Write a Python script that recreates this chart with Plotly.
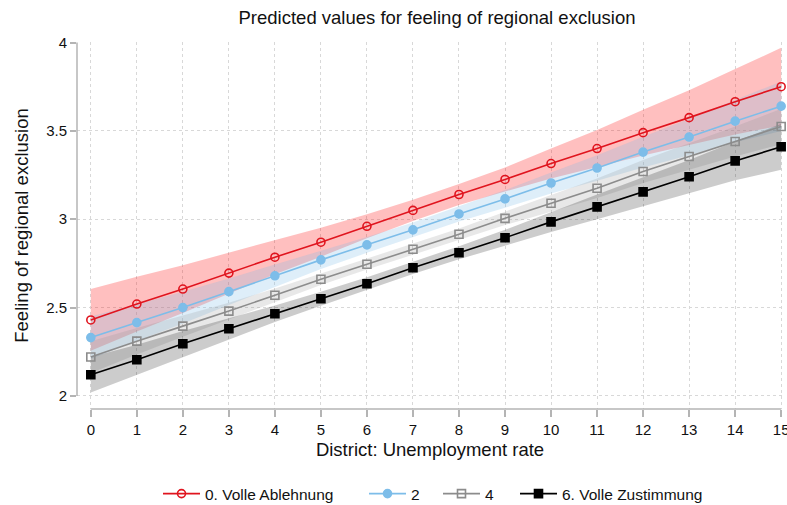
import plotly.graph_objs as go

# district unemployment rate
rate = list(range(16))

# predicted values per answer category
pred_ablehnung = [2.43, 2.52, 2.605, 2.695, 2.785, 2.87, 2.96, 3.05, 3.14, 3.225, 3.315, 3.40, 3.49, 3.575, 3.665, 3.75]
pred_2 = [2.33, 2.415, 2.50, 2.59, 2.68, 2.77, 2.855, 2.94, 3.03, 3.115, 3.205, 3.29, 3.38, 3.465, 3.555, 3.64]
pred_4 = [2.22, 2.31, 2.395, 2.48, 2.57, 2.66, 2.745, 2.83, 2.915, 3.005, 3.09, 3.175, 3.27, 3.355, 3.44, 3.525]
pred_zustimmung = [2.12, 2.205, 2.295, 2.38, 2.465, 2.55, 2.635, 2.725, 2.81, 2.895, 2.985, 3.07, 3.155, 3.24, 3.33, 3.41]

# 95% CI bounds
lo_ablehnung = [2.255, 2.365, 2.47, 2.58, 2.688, 2.788, 2.892, 2.99, 3.08, 3.157, 3.23, 3.295, 3.36, 3.42, 3.48, 3.53]
hi_ablehnung = [2.605, 2.675, 2.74, 2.81, 2.882, 2.952, 3.028, 3.11, 3.20, 3.293, 3.40, 3.505, 3.62, 3.73, 3.85, 3.97]
lo_2 = [2.21, 2.31, 2.41, 2.515, 2.617, 2.718, 2.81, 2.898, 2.987, 3.065, 3.145, 3.218, 3.293, 3.362, 3.435, 3.50]
hi_2 = [2.45, 2.52, 2.59, 2.665, 2.743, 2.822, 2.90, 2.982, 3.073, 3.165, 3.265, 3.362, 3.467, 3.568, 3.675, 3.78]
lo_4 = [2.13, 2.235, 2.335, 2.432, 2.532, 2.628, 2.715, 2.80, 2.883, 2.967, 3.043, 3.12, 3.205, 3.28, 3.355, 3.425]
hi_4 = [2.31, 2.385, 2.455, 2.528, 2.608, 2.692, 2.775, 2.86, 2.947, 3.043, 3.137, 3.23, 3.335, 3.43, 3.525, 3.625]
lo_zustimmung = [2.02, 2.12, 2.222, 2.32, 2.418, 2.51, 2.598, 2.69, 2.773, 2.85, 2.928, 3.0, 3.072, 3.145, 3.22, 3.28]
hi_zustimmung = [2.22, 2.29, 2.368, 2.44, 2.512, 2.59, 2.672, 2.76, 2.847, 2.94, 3.042, 3.14, 3.238, 3.335, 3.44, 3.54]

series = [
    ('0. Volle Ablehnung', pred_ablehnung, lo_ablehnung, hi_ablehnung,
     '#e0141e', 'circle-open', 'rgba(255,0,0,0.25)'),
    ('2', pred_2, lo_2, hi_2,
     '#7dbde9', 'circle', 'rgba(125,186,230,0.25)'),
    ('4', pred_4, lo_4, hi_4,
     '#8c8c8c', 'square-open', 'rgba(140,140,140,0.2)'),
    ('6. Volle Zustimmung', pred_zustimmung, lo_zustimmung, hi_zustimmung,
     '#000000', 'square', 'rgba(0,0,0,0.2)'),
]

W, H = 787, 505

# one legend per series so the entries sit where Stata puts them
legend_ids = ['legend', 'legend2', 'legend3', 'legend4']
legend_x = [158, 364, 438, 515]

fig = go.Figure()

for name, pred, lo, hi, col, sym, band in series:
    fig.add_trace(go.Scatter(x=rate, y=lo, mode='lines', line=dict(width=0),
                             showlegend=False, hoverinfo='skip'))
    fig.add_trace(go.Scatter(x=rate, y=hi, mode='lines', line=dict(width=0),
                             fill='tonexty', fillcolor=band,
                             showlegend=False, hoverinfo='skip'))

for (name, pred, lo, hi, col, sym, band), lid in zip(series, legend_ids):
    fig.add_trace(go.Scatter(
        x=rate, y=pred, mode='lines+markers', name=name, legend=lid,
        line=dict(color=col, width=1.6),
        marker=dict(symbol=sym, size=8, color=col,
                    line=dict(color=col, width=1.6)),
        cliponaxis=False))

axis_col = '#b4b4b4'
fig.update_layout(
    width=W, height=H,
    margin=dict(l=77, r=4, t=42, b=96, autoexpand=False),
    paper_bgcolor='white', plot_bgcolor='white',
    font=dict(family='Liberation Sans, Arial, sans-serif', color='#222'),
    title=dict(text='Predicted values for feeling of regional exclusion',
               x=437 / W, xanchor='center', xref='container',
               y=1 - 18 / H, yanchor='middle', yref='container',
               font=dict(size=18.5, color='#111')),
    xaxis=dict(range=[-0.3, 15.04], tickvals=rate, ticks='outside',
               ticklen=7, tickcolor=axis_col, tickwidth=1.5,
               showline=False, zeroline=False, automargin=False,
               ticklabeloverflow='allow',
               showgrid=True, gridcolor='#d8d8d8', griddash='dot',
               tickfont=dict(size=15, color='#111'),
               title=dict(text='District: Unemployment rate',
                          font=dict(size=18.5, color='#111'), standoff=6)),
    yaxis=dict(range=[1.926, 4.003], tickvals=[2, 2.5, 3, 3.5, 4],
               ticktext=['2', '2.5', '3', '3.5', '4'], ticks='outside',
               ticklen=6, tickcolor=axis_col, tickwidth=1.5,
               showline=False, zeroline=False, automargin=False,
               showgrid=True, gridcolor='#d8d8d8', griddash='dot',
               tickfont=dict(size=15, color='#111'),
               title=dict(text='Feeling of regional exclusion',
                          font=dict(size=18.5, color='#111'), standoff=12)),
    shapes=[
        dict(type='line', xref='paper', yref='y', x0=0, x1=0, y0=2, y1=4,
             line=dict(color=axis_col, width=1.5)),
        dict(type='line', xref='x', yref='paper', x0=0, x1=15, y0=0, y1=0,
             line=dict(color=axis_col, width=1.5)),
    ],
)

for lid, lx in zip(legend_ids, legend_x):
    fig.update_layout({lid: dict(
        orientation='h', xref='container', yref='container',
        x=lx / W, xanchor='left', y=1 - 494 / H, yanchor='middle',
        font=dict(size=15.5, color='#111'), bgcolor='rgba(0,0,0,0)',
        itemwidth=37)})

# drop the default body margin so the figure fills the window
fig.write_html("out.html", config={'displayModeBar': False},
               post_script="document.body.style.margin='0';"
                           "document.body.style.overflow='hidden';")
